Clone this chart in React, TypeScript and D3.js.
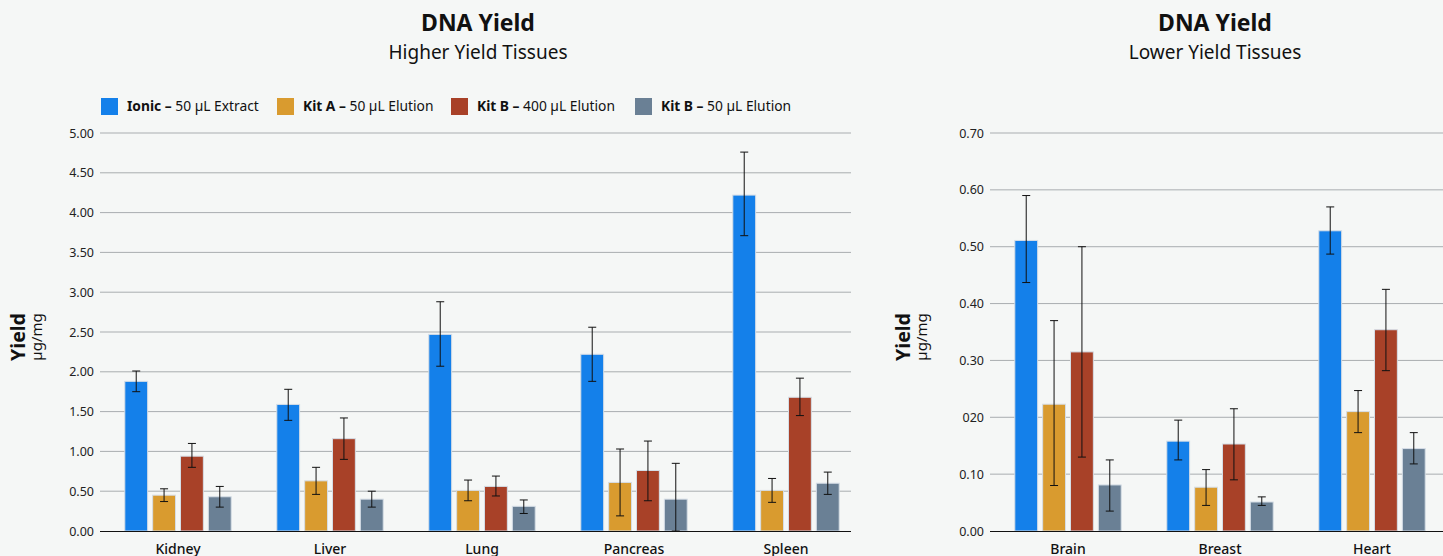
import React, { useEffect, useRef } from "react";
import * as d3 from "d3";

// series order: Ionic, Kit A (50), Kit B (400), Kit B (50)
const seriesNames = ["Ionic", "Kit A", "Kit B", "Kit B"];
const seriesDetail = ["50 µL Extract", "50 µL Elution", "400 µL Elution", "50 µL Elution"];
const seriesColors = ["#1480ea", "#d99b2f", "#a84128", "#6a8095"];

const highTissues = ["Kidney", "Liver", "Lung", "Pancreas", "Spleen"];
const highValues = [
  [1.88, 1.59, 2.47, 2.22, 4.22],
  [0.45, 0.63, 0.51, 0.61, 0.51],
  [0.94, 1.16, 0.56, 0.76, 1.68],
  [0.43, 0.4, 0.31, 0.4, 0.6],
];
const highLow = [
  [1.75, 1.39, 2.07, 1.88, 3.71],
  [0.37, 0.46, 0.38, 0.19, 0.36],
  [0.8, 0.9, 0.44, 0.38, 1.45],
  [0.3, 0.3, 0.22, 0.0, 0.46],
];
const highHigh = [
  [2.01, 1.78, 2.88, 2.56, 4.76],
  [0.53, 0.8, 0.64, 1.03, 0.66],
  [1.1, 1.42, 0.69, 1.13, 1.92],
  [0.56, 0.5, 0.39, 0.85, 0.74],
];
const highTicks = [0, 0.5, 1, 1.5, 2, 2.5, 3, 3.5, 4, 4.5, 5];

const lowTissues = ["Brain", "Breast", "Heart"];
const lowValues = [
  [0.511, 0.158, 0.528],
  [0.223, 0.077, 0.21],
  [0.315, 0.153, 0.354],
  [0.081, 0.051, 0.145],
];
const lowLow = [
  [0.437, 0.125, 0.487],
  [0.08, 0.045, 0.173],
  [0.13, 0.09, 0.282],
  [0.035, 0.045, 0.118],
];
const lowHigh = [
  [0.59, 0.195, 0.57],
  [0.37, 0.108, 0.247],
  [0.5, 0.215, 0.425],
  [0.125, 0.06, 0.173],
];
const lowTicks = [0, 0.1, 0.2, 0.3, 0.4, 0.5, 0.6, 0.7];
const lowTickLabels = ["0.00", "0.10", "020", "0.30", "0.40", "0.50", "0.60", "0.70"];

const FONT = "'Noto Sans', sans-serif";

function drawPanel(
  svg: d3.Selection<SVGSVGElement, unknown, null, undefined>,
  opts: {
    title: string;
    subtitle: string;
    titleX: number;
    cats: string[];
    vals: number[][];
    lo: number[][];
    hi: number[][];
    ticks: number[];
    tickLabels: string[];
    yMax: number;
    gridX0: number;
    gridX1: number;
    bandX0: number;
    labelX: number;
  }
) {
  const baseY = 531;
  const y = d3.scaleLinear().domain([0, opts.yMax]).range([baseY, 133]);
  const x0 = d3
    .scaleBand()
    .domain(opts.cats)
    .range([opts.bandX0, opts.bandX0 + 152 * opts.cats.length])
    .paddingInner(0.3)
    .paddingOuter(0.15);
  const x1 = d3
    .scaleBand<number>()
    .domain([0, 1, 2, 3])
    .range([0, x0.bandwidth()])
    .paddingInner(0.18);

  const g = svg.append("g");

  g.append("text")
    .attr("x", opts.titleX)
    .attr("y", 31)
    .attr("text-anchor", "middle")
    .attr("font-size", 23)
    .attr("font-weight", "bold")
    .attr("fill", "#111")
    .text(opts.title);
  g.append("text")
    .attr("x", opts.titleX)
    .attr("y", 59)
    .attr("text-anchor", "middle")
    .attr("font-size", 19)
    .attr("fill", "#111")
    .text(opts.subtitle);

  // grid
  g.selectAll(".grid")
    .data(opts.ticks.slice(1))
    .enter()
    .append("line")
    .attr("x1", opts.gridX0)
    .attr("x2", opts.gridX1)
    .attr("y1", (d) => y(d))
    .attr("y2", (d) => y(d))
    .attr("stroke", "#a9adb0")
    .attr("stroke-width", 1);

  g.selectAll(".tick")
    .data(opts.ticks)
    .enter()
    .append("text")
    .attr("x", opts.gridX0 - 6)
    .attr("y", (d) => y(d) + 4.5)
    .attr("text-anchor", "end")
    .attr("font-size", 12.5)
    .attr("fill", "#222")
    .text((d, i) => opts.tickLabels[i]);

  // y label
  const lab = g
    .append("text")
    .attr("transform", `translate(${opts.labelX},337) rotate(-90)`)
    .attr("text-anchor", "middle")
    .attr("fill", "#111");
  lab.append("tspan").attr("x", 0).attr("dy", 0).attr("font-size", 19.5).attr("font-weight", "bold").text("Yield");
  lab.append("tspan").attr("x", 0).attr("dy", 17).attr("font-size", 15).text("µg/mg");

  // bars
  opts.cats.forEach((c, ci) => {
    const gx = x0(c)!;
    for (let s = 0; s < 4; s++) {
      const bx = gx + x1(s)!;
      const v = opts.vals[s][ci];
      g.append("rect")
        .attr("x", bx)
        .attr("y", y(v))
        .attr("width", x1.bandwidth())
        .attr("height", baseY - y(v))
        .attr("fill", seriesColors[s])
        .attr("stroke", "#d5dde6")
        .attr("stroke-width", 1);
      const cx = bx + x1.bandwidth() / 2;
      const yl = y(opts.lo[s][ci]);
      const yh = y(opts.hi[s][ci]);
      g.append("line").attr("x1", cx).attr("x2", cx).attr("y1", yl).attr("y2", yh).attr("stroke", "#111").attr("stroke-width", 1);
      [yl, yh].forEach((yy) =>
        g.append("line").attr("x1", cx - 4).attr("x2", cx + 4).attr("y1", yy).attr("y2", yy).attr("stroke", "#111").attr("stroke-width", 1)
      );
    }
    g.append("text")
      .attr("x", gx + x0.bandwidth() / 2)
      .attr("y", 554)
      .attr("text-anchor", "middle")
      .attr("font-size", 14)
      .attr("font-weight", 500)
      .attr("fill", "#111")
      .text(c);
  });

  g.append("line")
    .attr("x1", opts.gridX0)
    .attr("x2", opts.gridX1)
    .attr("y1", baseY + 0.5)
    .attr("y2", baseY + 0.5)
    .attr("stroke", "#111")
    .attr("stroke-width", 1.2);
}

export default function App() {
  const ref = useRef<SVGSVGElement>(null);

  useEffect(() => {
    document.body.style.margin = "0";
    const svg = d3.select(ref.current!);
    svg.selectAll("*").remove();
    svg.attr("font-family", FONT);

    svg.append("rect").attr("width", 1443).attr("height", 556).attr("fill", "#f5f7f6");

    drawPanel(svg, {
      title: "DNA Yield",
      subtitle: "Higher Yield Tissues",
      titleX: 478,
      cats: highTissues,
      vals: highValues,
      lo: highLow,
      hi: highHigh,
      ticks: highTicks,
      tickLabels: highTicks.map((d) => d.toFixed(2)),
      yMax: 5,
      gridX0: 100,
      gridX1: 851,
      bandX0: 102,
      labelX: 25,
    });

    drawPanel(svg, {
      title: "DNA Yield",
      subtitle: "Lower Yield Tissues",
      titleX: 1215,
      cats: lowTissues,
      vals: lowValues,
      lo: lowLow,
      hi: lowHigh,
      ticks: lowTicks,
      tickLabels: lowTickLabels,
      yMax: 0.7,
      gridX0: 990,
      gridX1: 1443,
      bandX0: 992,
      labelX: 910,
    });

    // legend
    const legendX = [101, 277, 451, 635];
    const lg = svg.append("g");
    seriesNames.forEach((n, i) => {
      lg.append("rect")
        .attr("x", legendX[i])
        .attr("y", 98)
        .attr("width", 17)
        .attr("height", 17)
        .attr("fill", seriesColors[i]);
      const t = lg
        .append("text")
        .attr("x", legendX[i] + 26)
        .attr("y", 111)
        .attr("font-size", 13.8)
        .attr("fill", "#111");
      t.append("tspan").attr("font-weight", "bold").text(n + " – ");
      t.append("tspan").text(seriesDetail[i]);
    });
  }, []);

  return <svg ref={ref} width={1443} height={556} style={{ display: "block" }} />;
}
